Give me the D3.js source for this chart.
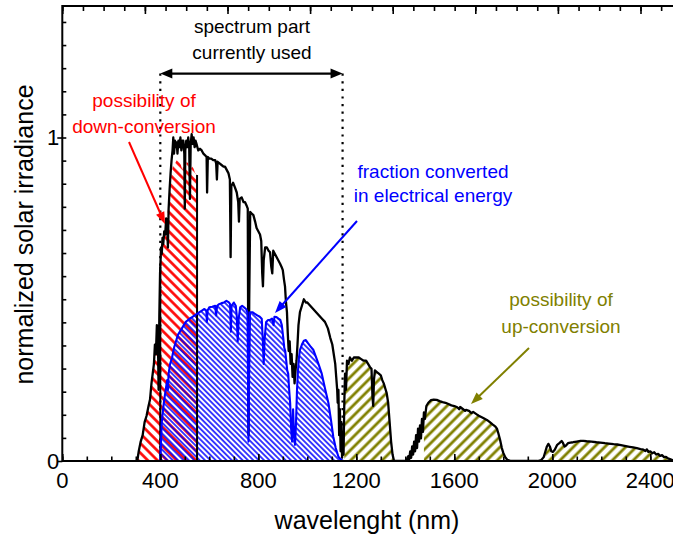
<!DOCTYPE html>
<html><head><meta charset="utf-8">
<script src="https://cdn.jsdelivr.net/npm/d3@7"></script>
<style>
body{margin:0;background:#fff}
svg{display:block}
text{font-family:"Liberation Sans",Arial,Helvetica,sans-serif}
</style>
</head><body>
<svg id="chart" width="673" height="537"></svg>
<script>
// ---------------- DATA ----------------
// normalized AM1.5 solar spectrum: [wavelength nm, value]
const solarSpectrum = [
[300,0],[306,0],[312,0.03],[320,0.06],[328,0.08],[336,0.12],[344,0.14],[352,0.17],[358,0.19],[364,0.24],
[369,0.27],[374,0.30],[378,0.36],[382,0.33],[386,0.42],[390,0.40],[393,0.22],[396,0.45],[399,0.58],[400,0.60],
[403,0.66],[406,0.64],[409,0.69],[412,0.67],[416,0.71],[420,0.70],[424,0.75],[428,0.73],[431,0.66],[434,0.78],
[438,0.84],[442,0.89],[446,0.93],[450,0.96],[453,1.00],[456,0.95],[460,0.99],[464,0.97],[467,0.985],[470,0.95],
[474,0.99],[478,0.97],[482,1.00],[486,0.96],[490,0.99],[494,0.99],[498,0.95],[500,0.78],[502,0.96],[506,0.99],
[510,0.97],[514,1.00],[518,0.97],[521,0.81],[524,0.98],[528,1.01],[532,0.98],[536,1.00],[540,0.97],[544,0.99],
[549,0.977],[555,0.96],[562,0.965],[569,0.96],[576,0.95],[583,0.945],[589,0.94],[591,0.83],[594,0.94],[600,0.935],
[608,0.935],[616,0.93],[624,0.93],[628,0.92],[631,0.87],[634,0.925],[642,0.92],[650,0.915],[658,0.91],[664,0.91],
[671,0.90],[678,0.89],[684,0.87],[687,0.63],[690,0.85],[697,0.86],[705,0.845],[712,0.83],[718,0.80],[721,0.74],
[724,0.81],[732,0.815],[740,0.80],[746,0.80],[752,0.79],[757,0.78],[760,0.08],[763,0.50],[767,0.77],[773,0.765],
[780,0.76],[787,0.74],[793,0.72],[800,0.71],[807,0.70],[812,0.68],[816,0.58],[819,0.54],[822,0.62],[828,0.66],
[835,0.66],[842,0.65],[848,0.645],[853,0.60],[857,0.58],[861,0.65],[868,0.64],[875,0.63],[882,0.62],[889,0.61],
[895,0.60],[900,0.59],[905,0.56],[909,0.54],[913,0.49],[917,0.46],[920,0.40],[924,0.34],[928,0.37],[932,0.30],
[936,0.33],[940,0.26],[944,0.30],[948,0.24],[952,0.28],[956,0.31],[960,0.36],[964,0.42],[970,0.46],[978,0.48],
[986,0.50],[994,0.49],[1000,0.49],[1012,0.48],[1024,0.47],[1036,0.46],[1048,0.45],[1060,0.44],[1072,0.43],[1084,0.41],
[1094,0.38],[1102,0.36],[1108,0.33],[1114,0.30],[1118,0.26],[1122,0.22],[1124,0.18],[1127,0.22],[1130,0.08],[1133,0.16],
[1136,0.03],[1139,0.12],[1142,0.01],[1145,0.09],[1148,0.02],[1151,0.18],[1154,0.27],[1158,0.22],[1162,0.31],[1168,0.30],
[1174,0.32],[1182,0.31],[1190,0.32],[1200,0.32],[1210,0.32],[1220,0.315],[1230,0.31],[1240,0.31],[1248,0.30],[1256,0.29],
[1262,0.285],[1266,0.20],[1269,0.17],[1272,0.25],[1276,0.28],[1284,0.275],[1292,0.27],[1300,0.265],[1306,0.25],[1312,0.24],
[1318,0.225],[1324,0.21],[1330,0.18],[1336,0.12],[1342,0.06],[1348,0.02],[1354,0],[1400,0],[1406,0.003],[1412,0.015],
[1416,0.005],[1420,0.03],[1424,0.01],[1428,0.045],[1432,0.02],[1436,0.06],[1440,0.03],[1444,0.08],[1448,0.04],[1452,0.10],
[1456,0.06],[1460,0.11],[1464,0.07],[1468,0.13],[1472,0.09],[1476,0.15],[1480,0.13],[1486,0.17],[1494,0.18],[1505,0.188],
[1516,0.19],[1528,0.189],[1540,0.185],[1552,0.182],[1564,0.18],[1576,0.176],[1588,0.172],[1600,0.17],[1612,0.166],[1620,0.16],
[1624,0.167],[1636,0.16],[1644,0.155],[1648,0.158],[1660,0.155],[1670,0.148],[1677,0.152],[1690,0.145],[1700,0.14],[1710,0.136],
[1720,0.132],[1733,0.127],[1745,0.12],[1756,0.113],[1768,0.106],[1774,0.10],[1780,0.085],[1787,0.065],[1794,0.04],[1800,0.025],
[1808,0.012],[1816,0.004],[1830,0],[1940,0],[1955,0.003],[1965,0.012],[1972,0.03],[1978,0.045],[1984,0.053],[1990,0.045],
[1996,0.03],[2002,0.028],[2010,0.035],[2020,0.05],[2030,0.056],[2038,0.062],[2044,0.055],[2050,0.045],[2056,0.048],[2064,0.055],
[2074,0.057],[2085,0.058],[2100,0.06],[2115,0.062],[2127,0.062],[2140,0.061],[2160,0.06],[2180,0.058],[2196,0.057],[2215,0.055],
[2230,0.054],[2250,0.052],[2265,0.051],[2280,0.049],[2300,0.046],[2315,0.044],[2330,0.042],[2345,0.04],[2360,0.037],[2372,0.035],
[2380,0.031],[2386,0.036],[2392,0.028],[2400,0.03],[2408,0.024],[2416,0.027],[2424,0.02],[2432,0.022],[2440,0.016],[2448,0.018],
[2456,0.012],[2464,0.013],[2472,0.008],[2480,0.006],[2490,0.003],[2500,0.001]
];

// region usable by down-conversion (red hatch)
const downConversion = [
[306,0],[312,0.03],[320,0.06],[328,0.08],[336,0.12],[344,0.14],[352,0.17],[358,0.19],[364,0.24],[369,0.27],
[374,0.30],[378,0.36],[382,0.33],[386,0.42],[390,0.40],[393,0.22],[396,0.45],[399,0.58],[402,0.64],[406,0.66],
[411,0.68],[418,0.71],[426,0.745],[433,0.79],[440,0.85],[446,0.89],[453,0.92],[460,0.92],[467,0.93],[474,0.93],
[482,0.92],[490,0.90],[496,0.92],[500,0.78],[504,0.91],[508,0.925],[514,0.92],[518,0.90],[521,0.81],[524,0.90],
[530,0.91],[535,0.905],[542,0.89],[550,0.884]
];

// fraction converted in electrical energy (blue)
const convertedFraction = [
[400,0],[403,0.06],[406,0.12],[410,0.15],[416,0.19],[422,0.22],[428,0.25],[431,0.22],[434,0.27],[440,0.30],
[448,0.32],[456,0.35],[464,0.37],[472,0.39],[480,0.40],[488,0.41],[496,0.42],[504,0.43],[512,0.435],[520,0.44],
[530,0.445],[540,0.45],[550,0.455],[560,0.46],[570,0.465],[580,0.47],[588,0.465],[590,0.43],[593,0.465],[600,0.475],
[612,0.477],[624,0.48],[628,0.45],[632,0.48],[640,0.485],[650,0.488],[660,0.49],[670,0.495],[680,0.49],[685,0.485],
[688,0.40],[691,0.48],[700,0.49],[708,0.48],[712,0.45],[716,0.37],[720,0.44],[726,0.475],[734,0.48],[742,0.475],
[750,0.47],[756,0.46],[760,0.06],[763,0.30],[766,0.46],[776,0.46],[786,0.455],[796,0.45],[806,0.446],[814,0.44],
[818,0.38],[822,0.30],[826,0.38],[832,0.43],[840,0.436],[848,0.436],[856,0.44],[862,0.42],[866,0.446],[874,0.445],
[882,0.44],[890,0.436],[896,0.42],[902,0.38],[906,0.35],[910,0.34],[914,0.31],[918,0.28],[922,0.27],[926,0.22],
[930,0.18],[934,0.10],[938,0.06],[942,0.16],[946,0.08],[950,0.05],[954,0.12],[958,0.22],[962,0.28],[966,0.32],
[970,0.343],[978,0.36],[986,0.372],[994,0.374],[1002,0.365],[1012,0.355],[1025,0.343],[1036,0.32],[1048,0.295],[1059,0.27],
[1072,0.225],[1086,0.18],[1096,0.13],[1106,0.075],[1116,0.04],[1127,0.013],[1138,0.004],[1146,0]
];

// wavelength ranges usable by up-conversion (olive hatch)
const upConversionRanges = [[1150,1356],[1476,1830],[1972,2500]];
// spectrum part currently used
const usedRange = [400,1144];

const xTickValues = [0,400,800,1200,1600,2000,2400];
const yTickValues = [0,1];
const xTitle = "wavelenght (nm)";
const yTitle = "normalized solar irradiance";

// ---------------- CHART ----------------
const svg = d3.select("#chart");
const L = 62.3, R = 674.8, T = 6, B = 461;
const x = d3.scaleLinear().domain([0,2500]).range([L,R]);
const y = d3.scaleLinear().domain([0,1.4065]).range([B,T]);
const topScale = d3.scaleLinear().domain([0,(R-L)/82.6]).range([L,R]);

const defs = svg.append("defs");
function hatch(id,color,spacing,width,angle){
  const p = defs.append("pattern").attr("id",id).attr("patternUnits","userSpaceOnUse")
    .attr("width",spacing).attr("height",spacing).attr("patternTransform",`rotate(${angle})`);
  p.append("line").attr("x1",spacing/2).attr("y1",-1).attr("x2",spacing/2).attr("y2",spacing+1)
    .attr("stroke",color).attr("stroke-width",width);
}
hatch("hRed","#ff0000",6.8,2.6,-45);
hatch("hBlue","#0000ff",3.8,1.5,-45);
hatch("hOlive","#808000",7.4,2.8,45);

svg.append("clipPath").attr("id","plotClip").append("rect")
  .attr("x",L).attr("y",T).attr("width",R-L).attr("height",B-T);
const plot = svg.append("g").attr("clip-path","url(#plotClip)");

const area = d3.area().x(d=>x(d[0])).y0(y(0)).y1(d=>y(d[1]));
const line = d3.line().x(d=>x(d[0])).y(d=>y(d[1]));

// dotted lines of used part
const arrowVal = 1.1975;
usedRange.forEach(w=>{
  plot.append("line").attr("x1",x(w)).attr("x2",x(w)).attr("y1",y(arrowVal)).attr("y2",y(0))
    .attr("stroke","#000").attr("stroke-width",2.2).attr("stroke-dasharray","2.2,5.4");
});

// fills
plot.append("path").datum(downConversion).attr("d",area).attr("fill","url(#hRed)");
plot.append("path").datum(convertedFraction).attr("d",area).attr("fill","url(#hBlue)");
upConversionRanges.forEach(([a,b])=>{
  const seg = solarSpectrum.filter(d=>d[0]>=a && d[0]<=b);
  plot.append("path").datum(seg).attr("d",area).attr("fill","url(#hOlive)");
});

// spectrum
plot.append("path").datum(solarSpectrum).attr("d",line).attr("fill","none")
  .attr("stroke","#000").attr("stroke-width",2.3).attr("stroke-linejoin","round");
// vertical boundaries
const v400 = solarSpectrum.find(d=>d[0]===400)[1];
const lastDown = downConversion[downConversion.length-1];
[[400,v400],[lastDown[0],lastDown[1]]].forEach(([w,v])=>{
  plot.append("line").attr("x1",x(w)).attr("x2",x(w)).attr("y1",y(0)).attr("y2",y(v))
    .attr("stroke","#000").attr("stroke-width",2);
});
// converted fraction outline
plot.append("path").datum(convertedFraction).attr("d",line).attr("fill","none")
  .attr("stroke","#0000ff").attr("stroke-width",2.1).attr("stroke-linejoin","round");

// axes (ticks only)
function strip(g){ g.select(".domain").remove(); g.selectAll("text").remove(); g.selectAll("line").attr("stroke","#000").attr("stroke-width",1.6); }
svg.append("g").attr("transform",`translate(0,${B})`)
  .call(d3.axisBottom(x).tickValues(d3.range(0,2501,100)).tickSize(-4.5)).call(strip);
svg.append("g").attr("transform",`translate(0,${B})`)
  .call(d3.axisBottom(x).tickValues(xTickValues).tickSize(-7)).call(strip);
svg.append("g").attr("transform",`translate(0,${T})`)
  .call(d3.axisTop(topScale).tickValues(d3.range(0,7.5,0.25)).tickSize(-5)).call(strip);
svg.append("g").attr("transform",`translate(0,${T})`)
  .call(d3.axisTop(topScale).tickValues(d3.range(0,8,1)).tickSize(-8)).call(strip);
svg.append("g").attr("transform",`translate(${L},0)`)
  .call(d3.axisLeft(y).tickValues(d3.range(1,20).map(k=>k/14)).tickSize(-4)).call(strip);
svg.append("g").attr("transform",`translate(${L},0)`)
  .call(d3.axisLeft(y).tickValues(yTickValues).tickSize(5)).call(strip);

// frame
svg.append("rect").attr("x",L).attr("y",T).attr("width",R-L).attr("height",B-T)
  .attr("fill","none").attr("stroke","#000").attr("stroke-width",2);

// tick labels
svg.append("g").selectAll("text").data(xTickValues).join("text")
  .attr("x",d=>x(d)).attr("y",488).attr("text-anchor","middle")
  .attr("font-size",22).attr("fill","#000").text(d=>d);
svg.append("g").selectAll("text").data(yTickValues).join("text")
  .attr("x",L-3).attr("y",d=>y(d)).attr("dy","0.36em").attr("text-anchor","end")
  .attr("font-size",22).attr("fill","#000").text(d=>d);

// titles
svg.append("text").attr("x",367).attr("y",529).attr("text-anchor","middle")
  .attr("font-size",25).attr("fill","#000").text(xTitle);
svg.append("text").attr("transform","translate(33,234.5) rotate(-90)").attr("text-anchor","middle")
  .attr("font-size",25).attr("fill","#000").text(yTitle);

// annotations
function arrowHead(tx,ty,fx,fy,color,len,hw){
  const a = Math.atan2(ty-fy,tx-fx);
  const bx = tx-len*Math.cos(a), by = ty-len*Math.sin(a);
  const px = -Math.sin(a)*hw, py = Math.cos(a)*hw;
  svg.append("polygon").attr("points",`${tx},${ty} ${bx+px},${by+py} ${bx-px},${by-py}`).attr("fill",color);
}
function arrow(fx,fy,tx,ty,color,w){
  const a = Math.atan2(ty-fy,tx-fx);
  svg.append("line").attr("x1",fx).attr("y1",fy).attr("x2",tx-9*Math.cos(a)).attr("y2",ty-9*Math.sin(a))
    .attr("stroke",color).attr("stroke-width",w);
  arrowHead(tx,ty,fx,fy,color,12,4.5);
}
// double arrow
const ay = y(arrowVal), ax1 = x(usedRange[0]), ax2 = x(usedRange[1]);
svg.append("line").attr("x1",ax1+8).attr("x2",ax2-8).attr("y1",ay).attr("y2",ay)
  .attr("stroke","#000").attr("stroke-width",2.4);
arrowHead(ax1,ay,ax2,ay,"#000",12,5);
arrowHead(ax2,ay,ax1,ay,"#000",12,5);

function label(lines,cx,y0,dy,color){
  lines.forEach((t,i)=>svg.append("text").attr("x",cx).attr("y",y0+i*dy).attr("text-anchor","middle")
    .attr("font-size",19).attr("fill",color).text(t));
}
label(["spectrum part","currently used"],252,33,26,"#000");
label(["possibility of","down-conversion"],144,107,26,"#ff0000");
label(["fraction converted","in electrical energy"],433,178,24,"#0000ff");
label(["possibility of","up-conversion"],561,306,27,"#808000");

arrow(129,142,165,224,"#ff0000",2);
arrow(357,221,275,313,"#0000ff",2);
arrow(529,348,471,404,"#808000",2);
</script>
</body></html>
